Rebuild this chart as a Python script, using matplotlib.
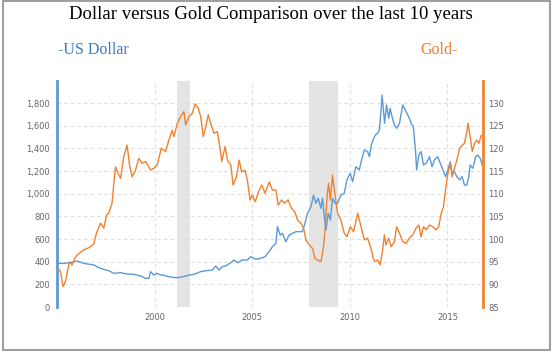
import matplotlib
matplotlib.use("Agg")
import matplotlib.pyplot as plt
from matplotlib.patches import Rectangle
from matplotlib.ticker import FuncFormatter

# left axis series (blue)
usd_years = [1995.00, 1995.35, 1995.69, 1996.03, 1996.37, 1996.89, 1997.14, 1997.40, 1997.65,
             1997.91, 1998.26, 1998.59, 1998.94, 1999.28, 1999.54, 1999.71, 1999.79, 1999.96,
             2000.13, 2000.31, 2000.48, 2000.56, 2000.90, 2001.16, 2001.50, 2001.76, 2002.02,
             2002.36, 2002.62, 2002.96, 2003.13, 2003.30, 2003.47, 2003.64, 2003.90, 2004.07,
             2004.24, 2004.50, 2004.75, 2004.93, 2005.18, 2005.44, 2005.66, 2005.85, 2006.03,
             2006.21, 2006.29, 2006.43, 2006.55, 2006.72, 2006.89, 2007.06, 2007.24, 2007.40,
             2007.57, 2007.70, 2007.83, 2008.01, 2008.14, 2008.26, 2008.38, 2008.52, 2008.60,
             2008.69, 2008.78, 2008.89, 2009.00, 2009.11, 2009.24, 2009.37, 2009.54, 2009.71,
             2009.85, 2010.02, 2010.14, 2010.31, 2010.48, 2010.60, 2010.74, 2010.91, 2011.00,
             2011.10, 2011.22, 2011.31, 2011.42, 2011.51, 2011.60, 2011.65, 2011.72, 2011.78,
             2011.88, 2011.99, 2012.06, 2012.16, 2012.28, 2012.40, 2012.54, 2012.71, 2012.84,
             2013.01, 2013.14, 2013.25, 2013.36, 2013.42, 2013.53, 2013.65, 2013.77, 2013.91,
             2014.08, 2014.21, 2014.33, 2014.50, 2014.63, 2014.76, 2014.90, 2015.02, 2015.14,
             2015.24, 2015.36, 2015.48, 2015.62, 2015.75, 2015.87, 2015.99, 2016.09, 2016.16,
             2016.30, 2016.44, 2016.55, 2016.68, 2016.78]
usd_vals = [385, 385, 391, 406, 385, 371, 347, 332, 320,
            297, 303, 291, 288, 274, 253, 253, 312, 282,
            297, 282, 282, 274, 262, 259, 268, 282, 288,
            312, 320, 326, 362, 326, 356, 362, 391, 415,
            391, 415, 415, 444, 421, 430, 444, 485, 532,
            562, 709, 635, 650, 576, 635, 650, 665, 665,
            665, 738, 827, 885, 988, 915, 959, 871, 959,
            797, 679, 827, 768, 959, 915, 915, 988, 1003,
            1121, 1180, 1106, 1238, 1209, 1297, 1385, 1371, 1326,
            1429, 1488, 1518, 1532, 1562, 1738, 1871, 1738, 1621,
            1782, 1665, 1753, 1679, 1606, 1577, 1621, 1782, 1738,
            1679, 1621, 1591, 1385, 1209, 1341, 1371, 1253, 1268,
            1326, 1238, 1297, 1326, 1268, 1209, 1150, 1209, 1282,
            1180, 1194, 1150, 1121, 1150, 1076, 1076, 1150, 1253,
            1224, 1326, 1341, 1312, 1253]

# right axis series (orange)
gold_years = [1995.00, 1995.18, 1995.31, 1995.43, 1995.55, 1995.65, 1995.77, 1995.95, 1996.12,
              1996.37, 1996.54, 1996.72, 1996.89, 1997.02, 1997.23, 1997.40, 1997.54, 1997.65,
              1997.82, 1997.91, 1998.00, 1998.12, 1998.26, 1998.42, 1998.59, 1998.73, 1998.85,
              1999.02, 1999.19, 1999.36, 1999.54, 1999.79, 1999.96, 2000.13, 2000.34, 2000.56,
              2000.73, 2000.90, 2000.99, 2001.16, 2001.33, 2001.50, 2001.59, 2001.76, 2001.93,
              2002.07, 2002.24, 2002.36, 2002.49, 2002.62, 2002.75, 2002.87, 2003.04, 2003.21,
              2003.34, 2003.44, 2003.61, 2003.73, 2003.90, 2004.02, 2004.19, 2004.33, 2004.46,
              2004.63, 2004.75, 2004.89, 2005.01, 2005.15, 2005.32, 2005.49, 2005.66, 2005.87,
              2006.03, 2006.21, 2006.33, 2006.50, 2006.64, 2006.84, 2007.01, 2007.18, 2007.32,
              2007.49, 2007.63, 2007.75, 2007.92, 2008.09, 2008.21, 2008.34, 2008.52, 2008.65,
              2008.74, 2008.83, 2008.91, 2009.00, 2009.11, 2009.24, 2009.37, 2009.54, 2009.71,
              2009.85, 2010.02, 2010.19, 2010.40, 2010.57, 2010.74, 2010.91, 2011.08, 2011.22,
              2011.31, 2011.42, 2011.55, 2011.68, 2011.77, 2011.85, 2011.99, 2012.11, 2012.28,
              2012.40, 2012.54, 2012.71, 2012.88, 2013.05, 2013.22, 2013.39, 2013.53, 2013.65,
              2013.77, 2013.91, 2014.08, 2014.25, 2014.42, 2014.55, 2014.68, 2014.79, 2014.90,
              2015.02, 2015.15, 2015.24, 2015.36, 2015.48, 2015.62, 2015.75, 2015.87, 2015.99,
              2016.06, 2016.16, 2016.27, 2016.39, 2016.50, 2016.61, 2016.73, 2016.80]
gold_vals = [93.9, 92.8, 89.5, 90.6, 93.2, 95.0, 94.3, 96.1, 96.8,
             97.6, 97.9, 98.3, 99.0, 101.3, 103.5, 102.4, 105.3, 105.7,
             107.9, 112.3, 115.9, 114.5, 113.4, 118.2, 120.7, 115.9, 113.7,
             115.2, 117.8, 116.7, 117.1, 115.2, 115.6, 116.3, 120.0, 119.3,
             121.8, 124.0, 122.6, 125.5, 127.0, 128.1, 125.2, 127.0, 127.7,
             129.8, 128.8, 127.0, 122.6, 124.8, 127.4, 125.5, 123.3, 123.7,
             120.4, 117.1, 120.4, 117.4, 116.3, 111.9, 113.7, 117.4, 114.8,
             115.2, 113.0, 108.6, 109.7, 108.2, 110.4, 111.9, 110.1, 112.6,
             110.8, 110.8, 107.5, 108.6, 107.9, 108.6, 106.8, 106.0, 104.2,
             103.5, 102.4, 99.8, 98.7, 97.9, 95.7, 95.4, 95.0, 98.3,
             102.7, 109.3, 112.3, 108.6, 114.1, 109.7, 105.7, 104.2, 101.3,
             100.5, 102.7, 101.6, 105.7, 102.7, 99.8, 100.2, 97.9, 95.4,
             95.0, 95.4, 94.3, 97.6, 100.9, 98.7, 100.2, 98.3, 99.4,
             102.7, 101.3, 99.4, 99.0, 100.2, 100.9, 102.4, 103.1, 100.5,
             102.7, 102.0, 103.1, 102.7, 102.0, 102.7, 105.7, 107.1, 110.8,
             114.5, 116.7, 113.7, 115.6, 117.4, 120.0, 120.7, 121.1, 123.7,
             125.5, 122.6, 119.3, 121.1, 121.8, 121.1, 122.9, 122.6]

recessions = [(2001.16, 2001.81), (2007.92, 2009.41)]
year_ticks = [2000, 2005, 2010, 2015]
left_ticks = list(range(0, 2000, 200))
right_ticks = list(range(85, 135, 5))

BLUE = "#5b9bd5"
ORANGE = "#f0822f"
GRID = "#dedede"
TICK = "#666666"

fig = plt.figure(figsize=(5.55, 3.53), dpi=100)
fig.patch.set_facecolor("white")
ax = fig.add_axes([0.1027, 0.1303, 0.7676, 0.6402])
ax2 = ax.twinx()

for a, b in recessions:
    ax.axvspan(a, b, color="#e4e4e4", lw=0, zorder=0)

ax.plot(usd_years, usd_vals, color=BLUE, lw=1.0, zorder=3)
ax2.plot(gold_years, gold_vals, color=ORANGE, lw=1.0, zorder=3)

ax.set_xlim(1995.0, 2016.82)
ax.set_ylim(0, 1994)
ax2.set_ylim(85, 134.85)

ax.set_xticks(year_ticks)
ax.set_yticks(left_ticks)
ax2.set_yticks(right_ticks)
ax.yaxis.set_major_formatter(FuncFormatter(lambda v, p: f"{int(v):,}"))

ax.grid(True, color=GRID, ls=(0, (3, 3)), lw=0.8)
ax.set_axisbelow(True)

for a in (ax, ax2):
    for s in ("top", "bottom"):
        a.spines[s].set_visible(False)
    a.tick_params(length=0, labelsize=6, labelcolor=TICK)
ax.spines["right"].set_visible(False)
ax.spines["left"].set_color(BLUE)
ax.spines["left"].set_linewidth(2)
ax2.spines["left"].set_visible(False)
ax2.spines["right"].set_color(ORANGE)
ax2.spines["right"].set_linewidth(2)
ax.tick_params(axis="y", pad=5)
ax.tick_params(axis="x", pad=4)
ax2.tick_params(axis="y", pad=4)

fig.text(0.4876, 0.959, "Dollar versus Gold Comparison over the last 10 years",
         ha="center", va="center", fontsize=13.5, family="Liberation Serif", color="black")
fig.text(0.104, 0.8595, "-US Dollar", ha="left", va="center", fontsize=11.5,
         family="Liberation Serif", color="#3a7cc2")
fig.text(0.7577, 0.8595, "Gold-", ha="left", va="center", fontsize=11.5,
         family="Liberation Serif", color="#ed7d31")

fig.patches.append(Rectangle((2.5 / 555, 1 - 350 / 353), 547.5 / 555, 349.5 / 353,
                             transform=fig.transFigure, fill=False,
                             edgecolor="#8c8c8c", lw=1.2))

fig.savefig("out.png", dpi=100, facecolor="white")
